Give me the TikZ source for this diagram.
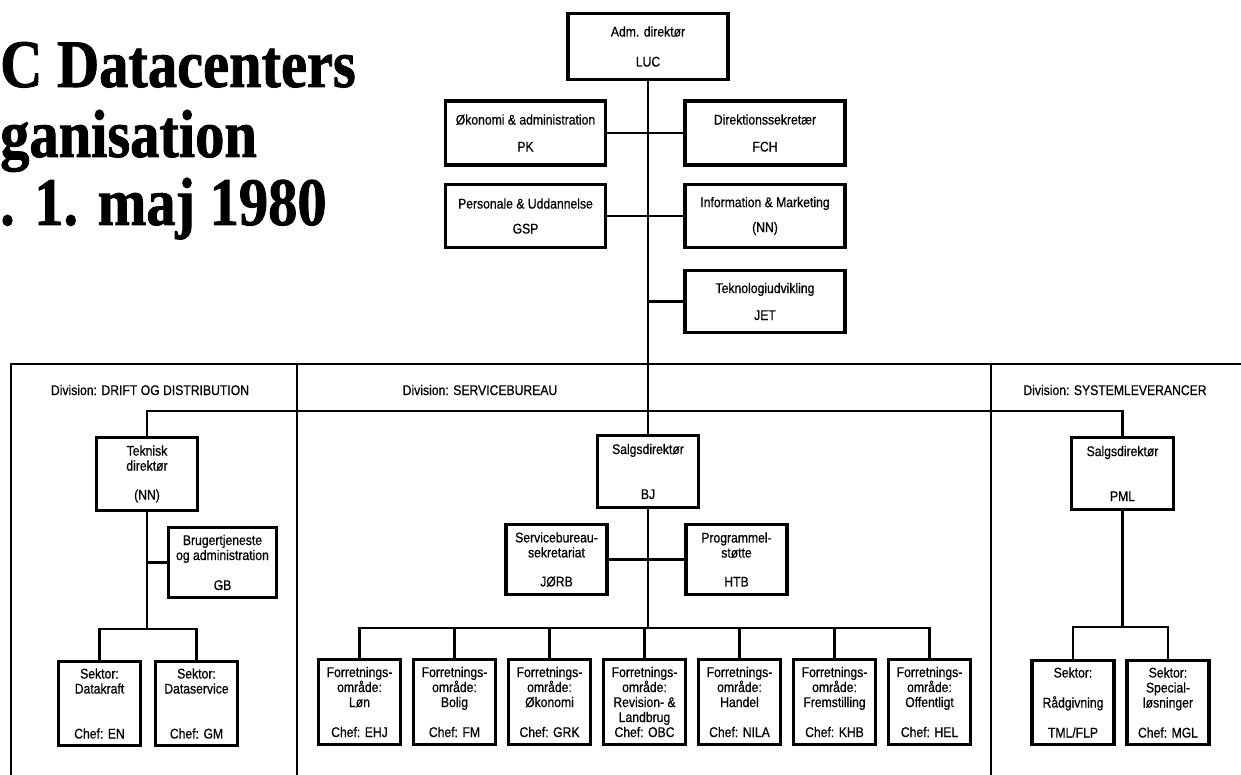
\documentclass[tikz,border=0pt]{standalone}
\usepackage{fontspec}
\setmainfont{Liberation Sans}[FakeStretch=0.87, FakeBold=0.6]
\newfontfamily\titlefont{Liberation Serif}[FakeStretch=0.86, BoldFeatures={FakeBold=1.2}]
\usetikzlibrary{positioning}

\begin{document}
\begin{tikzpicture}[
  x=1pt, y=-1pt,
  node distance=12pt,
  box/.style={draw, line width=3.6pt, fill=white, outer sep=0pt, inner sep=0pt,
    align=center, font=\fontsize{14}{15}\selectfont},
  staff/.style={box, minimum width=160pt, minimum height=64pt},
  head/.style={box, minimum width=101pt, minimum height=72pt},
  sub/.style={box, minimum width=101pt, minimum height=70pt},
  unit/.style={box, minimum width=82pt, minimum height=85pt},
  divlabel/.style={inner sep=0pt, font=\fontsize{14}{15}\selectfont},
  titletext/.style={inner sep=0pt, anchor=base west, font=\titlefont\bfseries\fontsize{68}{70}\selectfont},
  frame/.style={line width=2.8pt},
  link/.style={line width=2.2pt}
]
\useasboundingbox (0,0) rectangle (1241,775);

\node[titletext] (title1) at (0,87) {C Datacenters};
\node[titletext] (title2) at (0,157) {ganisation};
\node[titletext] (title3) at (0,225) {. 1. maj 1980};

\node[staff, minimum height=66pt] (adm) at (648,46.5) {Adm. direktør\\[15pt]LUC};
\node[staff] (oek) at (525.5,133) {Økonomi \& administration\\[12pt]PK};
\node[staff] (dir) at (765,133) {Direktionssekretær\\[12pt]FCH};
\node[staff, minimum height=63pt] (pers) at (525.5,216) {Personale \& Uddannelse\\[10pt]GSP};
\node[staff, minimum height=63pt] (info) at (765,216) {Information \& Marketing\\[10pt](NN)};
\node[staff, minimum height=62pt] (tek) at (765,301.5) {Teknologiudvikling\\[12pt]JET};

\draw[frame] (11,775) -- (11,364) -- (1241,364);
\draw[frame] (297,364) -- (297,775);
\draw[frame] (991,364) -- (991,775);

\node[divlabel] (drift) at (150,390) {Division: DRIFT OG DISTRIBUTION};
\node[divlabel] (service) at (480,390) {Division: SERVICEBUREAU};
\node[divlabel] (system) at (1115,390) {Division: SYSTEMLEVERANCER};

\coordinate (divbar) at (648,411);

% drift og distribution
\node[head, minimum height=73pt] (tdir) at (147,474) {Teknisk\\direktør\\[14pt](NN)};
\node[sub, minimum width=108pt] (brug) at (222.5,562.5) {Brugertjeneste\\og administration\\[15pt]GB};
\node[unit, minimum height=84pt] (kraft) at (99.5,703.5) {Sektor:\\Datakraft\\[30pt]Chef: EN};
\node[unit, minimum height=84pt, right=15pt of kraft] (dserv) {Sektor:\\Dataservice\\[30pt]Chef: GM};
\coordinate (dbar) at (147,629);

% servicebureau
\node[head] (bj) at (648,471.5) {Salgsdirektør\\[30pt]BJ};
\node[sub] (jorb) at (556.5,559.5) {Servicebureau-\\sekretariat\\[14pt]JØRB};
\node[sub] (htb) at (736.5,559.5) {Programmel-\\støtte\\[14pt]HTB};
\node[unit] (f1) at (359.5,702) {Forretnings-\\område:\\Løn\\[15pt]Chef: EHJ};
\node[unit, right=13pt of f1] (f2) {Forretnings-\\område:\\Bolig\\[15pt]Chef: FM};
\node[unit, right=13pt of f2] (f3) {Forretnings-\\område:\\Økonomi\\[15pt]Chef: GRK};
\node[unit, right=13pt of f3] (f4) {Forretnings-\\område:\\Revision- \&\\Landbrug\\Chef: OBC};
\node[unit, right=13pt of f4] (f5) {Forretnings-\\område:\\Handel\\[15pt]Chef: NILA};
\node[unit, right=13pt of f5] (f6) {Forretnings-\\område:\\Fremstilling\\[15pt]Chef: KHB};
\node[unit, right=13pt of f6] (f7) {Forretnings-\\område:\\Offentligt\\[15pt]Chef: HEL};
\coordinate (sbar) at (648,628);

% systemleverancer
\node[head, minimum width=102pt] (pml) at (1122.5,473.5) {Salgsdirektør\\[30pt]PML};
\node[unit, minimum height=84pt] (raad) at (1073,702.5) {Sektor:\\[15pt]Rådgivning\\[15pt]TML/FLP};
\node[unit, minimum height=84pt, right=13pt of raad] (spec) {Sektor:\\Special-\\løsninger\\[15pt]Chef: MGL};
\coordinate (rbar) at (1122.5,627);

\draw[link] (adm.south) -- (adm.south |- bj.north);
\draw[link] (oek) -- (dir);
\draw[link] (pers) -- (info);
\draw[link] (tek.west) -- (tek.west -| adm.south);
\draw[link] (tdir.north) |- (divbar) -| (pml.north);

\draw[link] (tdir.south) -- (dbar);
\draw[link] (brug.west) -- (brug.west -| tdir.south);
\draw[link] (kraft.north) |- (dbar) -| (dserv.north);

\draw[link] (bj.south) -- (sbar);
\draw[link] (jorb) -- (htb);
\draw[link] (f1.north) |- (sbar) -| (f7.north);
\foreach \f in {f2,f3,f4,f5,f6}
  \draw[link] (\f.north) -- (\f.north |- sbar);

\draw[link] (pml.south) -- (rbar);
\draw[link] (raad.north) |- (rbar) -| (spec.north);
\end{tikzpicture}
\end{document}
